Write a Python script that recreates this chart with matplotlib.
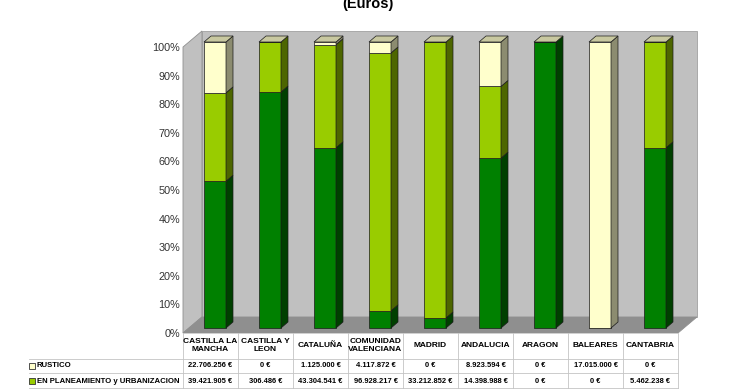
import numpy as np
import matplotlib
matplotlib.use('Agg')
from matplotlib import pyplot as plt
from matplotlib import transforms
from matplotlib.patches import Polygon, Rectangle

# data (euros)
regiones = ['CASTILLA LA\nMANCHA', 'CASTILLA Y\nLEON', 'CATALUÑA', 'COMUNIDAD\nVALENCIANA',
            'MADRID', 'ANDALUCIA', 'ARAGON', 'BALEARES', 'CANTABRIA']
rustico = [22706256, 0, 1125000, 4117872, 0, 8923594, 0, 17015000, 0]
planeamiento = [39421905, 306486, 43304541, 96928217, 33212852, 14398988, 0, 0, 5462238]
# third row of the table is cut off in the picture
urbano = [65500000, 1445000, 75650000, 6450000, 1205000, 34120000, 2500000, 0, 9300000]
series_names = ['URBANO', 'EN PLANEAMIENTO y URBANIZACION', 'RUSTICO']
yticks = list(range(0, 101, 10))

front = {'URBANO': '#008000', 'EN PLANEAMIENTO y URBANIZACION': '#99CC00', 'RUSTICO': '#FFFFCC'}
side = {'URBANO': '#004000', 'EN PLANEAMIENTO y URBANIZACION': '#4D6600', 'RUSTICO': '#8C8C70'}
cap_col = '#C8C8A0'

plt.rcParams['font.family'] = ['Liberation Sans', 'DejaVu Sans']

fig = plt.figure(figsize=(7.4, 3.89), dpi=100)
ax = fig.add_axes([183/740, 56/389, 495/740, 286/389])
ax.set_xlim(-0.5, 8.5)
ax.set_ylim(0, 100)
for s in ax.spines.values():
    s.set_visible(False)
ax.set_xticks([])
ax.set_yticks(yticks)
ax.set_yticklabels([f'{v}%' for v in yticks], fontsize=7.8, color='#333333')
ax.tick_params(axis='y', length=0, pad=2)
ax.patch.set_alpha(0)

n = len(regiones)
vals = np.array([urbano, planeamiento, rustico], dtype=float)
pct = vals / vals.sum(axis=0) * 100

# depth of walls and bars (x in category units, y in percent)
wdx, wdy = 0.345, 5.6
bdx, bdy = 0.127, 2.1
boff_x, boff_y = 0.082, 1.75
bw = 0.4

x0, x1 = -0.5, n - 0.5
ax.add_patch(Polygon([(x0 + wdx, wdy), (x1 + wdx, wdy), (x1 + wdx, 100 + wdy), (x0 + wdx, 100 + wdy)],
                     closed=True, fc='#C0C0C0', ec='#A0A0A0', lw=0.6, clip_on=False, zorder=0))
ax.add_patch(Polygon([(x0, 0), (x0, 100), (x0 + wdx, 100 + wdy), (x0 + wdx, wdy)],
                     closed=True, fc='#C0C0C0', ec='#909090', lw=0.6, clip_on=False, zorder=0))
ax.add_patch(Polygon([(x0, 0), (x1, 0), (x1 + wdx, wdy), (x0 + wdx, wdy)],
                     closed=True, fc='#8F8F8F', ec='#8F8F8F', lw=0.6, clip_on=False, zorder=0.5))

xs = np.arange(n) + boff_x
bottom = np.zeros(n) + boff_y
for k, name in enumerate(series_names):
    h = pct[k]
    ax.bar(xs, h, width=bw, bottom=bottom, color=front[name], edgecolor='#1A1A1A',
           linewidth=0.5, clip_on=False, zorder=2)
    for i in range(n):
        if h[i] <= 0:
            continue
        xr = xs[i] + bw / 2
        b, t = bottom[i], bottom[i] + h[i]
        ax.add_patch(Polygon([(xr, b), (xr + bdx, b + bdy), (xr + bdx, t + bdy), (xr, t)],
                             closed=True, fc=side[name], ec='#1A1A1A', lw=0.5, clip_on=False, zorder=2))
    bottom = bottom + h

for i in range(n):
    xl, xr = xs[i] - bw / 2, xs[i] + bw / 2
    t = bottom[i]
    ax.add_patch(Polygon([(xl, t), (xr, t), (xr + bdx, t + bdy), (xl + bdx, t + bdy)],
                         closed=True, fc=cap_col, ec='#1A1A1A', lw=0.5, clip_on=False, zorder=3))

# title (cut at the top of the image, as in the original)
fig.text(368/740, 1 - 8/389, '(Euros)', ha='center', va='baseline', fontsize=10.5,
         fontweight='bold')

# data table under the chart
tr = transforms.blended_transform_factory(ax.transData, ax.transAxes)
grid = '#C4C4C4'
y_head, y_r1, y_r2 = -0.0437, -0.115, -0.168
lines_y = [-0.091, -0.140, -0.192]
lab_x = -0.311


def euro(v):
    return f'{v:,}'.replace(',', '.') + ' €'


for i, reg in enumerate(regiones):
    ax.text(i, y_head, reg, transform=tr, ha='center', va='center', fontsize=6,
            fontweight='bold', linespacing=1.1)
    ax.text(i, y_r1, euro(rustico[i]), transform=tr, ha='center', va='center',
            fontsize=5.4, fontweight='bold')
    ax.text(i, y_r2, euro(planeamiento[i]), transform=tr, ha='center', va='center',
            fontsize=5.4, fontweight='bold')

for xv in np.arange(n + 1) - 0.5:
    ax.plot([xv, xv], [0, -0.25], transform=tr, color=grid, lw=0.6, clip_on=False, zorder=1)
for yv in lines_y:
    ax.plot([lab_x, 1.0], [yv, yv], transform=ax.transAxes, color=grid, lw=0.6,
            clip_on=False, zorder=1)

for yv, name in [(y_r1, 'RUSTICO'), (y_r2, 'EN PLANEAMIENTO y URBANIZACION')]:
    ax.add_patch(Rectangle((lab_x, yv - 0.011), 0.012, 0.022, transform=ax.transAxes,
                           fc=front[name], ec='#333333', lw=0.6, clip_on=False))
    ax.text(lab_x + 0.016, yv, name, transform=ax.transAxes, ha='left', va='center',
            fontsize=5.6, fontweight='bold')

fig.savefig('out.png', dpi=100)
